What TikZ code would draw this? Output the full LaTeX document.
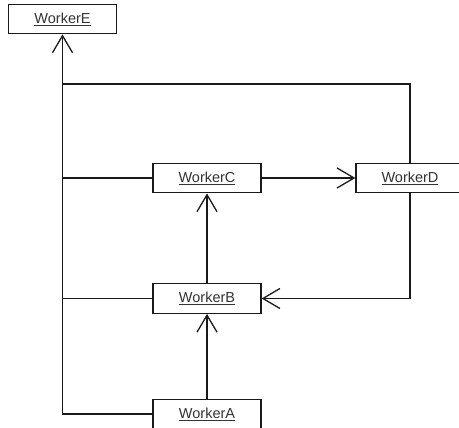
\documentclass[tikz,border=0pt]{standalone}
\usepackage{fontspec}
\setmainfont{Liberation Sans}
\usetikzlibrary{arrows.meta}
\definecolor{txt}{HTML}{333333}
\definecolor{ln}{HTML}{1A1A1A}
\begin{document}
\begin{tikzpicture}[x=1pt,y=-1pt,
  worker/.style={draw=ln,line width=1.3pt,fill=white,minimum width=108pt,minimum height=29.5pt,inner sep=0pt,
    font=\fontsize{14.5}{16}\selectfont,text=txt},
  conn/.style={draw=ln,line width=1.3pt},
  dep/.style={conn,-{Straight Barb[length=17pt,width=20pt,line width=1.3pt]}}]
\useasboundingbox (0,0) rectangle (459,428);
\node[worker] (E) at (62.5,19) {\underline{WorkerE}};
\node[worker] (C) at (207,178) {\underline{WorkerC}};
\node[worker] (D) at (410,178) {\underline{WorkerD}};
\node[worker] (B) at (207,298.5) {\underline{WorkerB}};
\node[worker] (A) at (207,414) {\underline{WorkerA}};
\coordinate (top) at (62.5,84);
\path[conn] (D.north) |- (top);
\path[conn] (C.west) -- (C.west -| E.south);
\path[conn] (B.west) -- (B.west -| E.south);
\path[dep] (A.west) -| (E.south);
\path[dep] (A.north) -- (B.south);
\path[dep] (B.north) -- (C.south);
\path[dep] (C.east) -- (D.west);
\path[dep] (D.south) |- (B.east);
\end{tikzpicture}
\end{document}
